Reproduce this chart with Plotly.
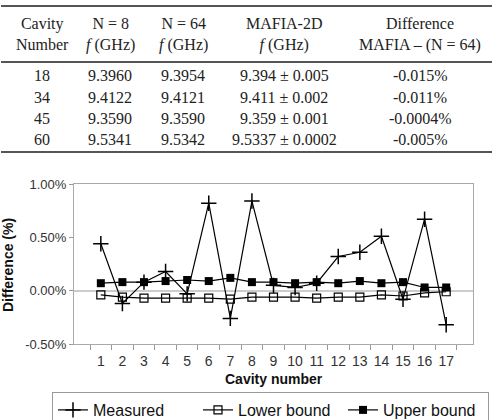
import plotly.graph_objects as go

W, H = 494, 420

# ---- data ----
cavities = [str(i) for i in range(1, 18)]
measured = [0.44, -0.12, 0.08, 0.18, -0.03, 0.82, -0.26, 0.84, 0.05, 0.03, 0.07, 0.32, 0.36, 0.51, -0.08, 0.67, -0.32]
lower_bound = [-0.04, -0.06, -0.07, -0.07, -0.07, -0.07, -0.08, -0.06, -0.06, -0.06, -0.07, -0.06, -0.06, -0.04, -0.05, -0.02, -0.01]
upper_bound = [0.07, 0.08, 0.08, 0.09, 0.10, 0.09, 0.12, 0.08, 0.08, 0.07, 0.08, 0.07, 0.09, 0.07, 0.08, 0.03, 0.03]

y_tickvals = [-0.5, 0.0, 0.5, 1.0]
y_ticktext = ["-0.50%", "0.00%", "0.50%", "1.00%"]

table_header = [
    "Cavity<br>Number",
    "N = 8<br><i>f</i> (GHz)",
    "N = 64<br><i>f</i> (GHz)",
    "MAFIA-2D<br><i>f</i> (GHz)",
    "Difference<br>MAFIA \u2013 (N = 64)",
]
table_rows = [
    ["18", "9.3960", "9.3954", "9.394 \u00b1 0.005", "-0.015%"],
    ["34", "9.4122", "9.4121", "9.411 \u00b1 0.002", "-0.011%"],
    ["45", "9.3590", "9.3590", "9.359 \u00b1 0.001", "-0.0004%"],
    ["60", "9.5341", "9.5342", "9.5337 \u00b1 0.0002", "-0.005%"],
]

# ---- layout helpers (pixel -> paper) ----
def px(x):
    return x / W

def py(y):
    return 1 - y / H

PL, PR, PT, PB = 74, 473, 184, 344

fig = go.Figure()
line_style = dict(color="black", width=1.2)
fig.add_trace(go.Scatter(x=cavities, y=measured, name="Measured", mode="lines+markers",
                         line=line_style,
                         marker=dict(symbol="cross-thin", size=11, line=dict(color="black", width=1.5))))
fig.add_trace(go.Scatter(x=cavities, y=lower_bound, name="Lower bound", mode="lines+markers",
                         line=line_style,
                         marker=dict(symbol="square-open", size=8, color="black", line=dict(color="black", width=1.2))))
fig.add_trace(go.Scatter(x=cavities, y=upper_bound, name="Upper bound", mode="lines+markers",
                         line=line_style,
                         marker=dict(symbol="square", size=8, color="black")))

axis_font = dict(family="Liberation Sans, Arial", size=13, color="#333")
fig.update_layout(
    width=W, height=H,
    margin=dict(l=0, r=0, t=0, b=0, autoexpand=False),
    paper_bgcolor="white", plot_bgcolor="white",
    showlegend=True,
    legend=dict(orientation="h", x=px(52), y=py(392), xanchor="left", yanchor="top",
                bordercolor="#999", borderwidth=1, entrywidth=100,
                font=dict(family="Liberation Sans, Arial", size=16, color="#111")),
    xaxis=dict(domain=[px(PL), px(PR)], type="category", tickson="boundaries",
               ticks="outside", ticklen=5, tickcolor="#999", tickangle=0,
               ticklabelstandoff=4,
               showline=True, linecolor="#aaa", linewidth=1, mirror=True,
               showgrid=False, tickfont=dict(family="Liberation Sans, Arial", size=14, color="#333"),
               anchor="y", automargin=False),
    yaxis=dict(domain=[py(PB), py(PT)], range=[-0.5, 1.0],
               tickvals=y_tickvals, ticktext=y_ticktext,
               ticks="outside", ticklen=4, tickcolor="#999",
               showline=True, linecolor="#aaa", linewidth=1, mirror=True,
               showgrid=False, zeroline=True, zerolinecolor="#ccc", zerolinewidth=1.5,
               tickfont=axis_font, automargin=False),
)

annotations = []
# axis titles
annotations.append(dict(x=px((PL + PR) / 2), y=py(379), xref="paper", yref="paper",
                        xanchor="center", yanchor="middle",
                        text="<b>Cavity number</b>", showarrow=False,
                        font=dict(family="Liberation Sans, Arial", size=14, color="#111")))
annotations.append(dict(x=px(8), y=py(265), xref="paper", yref="paper",
                        xanchor="center", yanchor="middle",
                        text="<b>Difference (%)</b>", showarrow=False, textangle=-90,
                        font=dict(family="Liberation Sans, Arial", size=14, color="#111")))

# table
col_x = [42, 110, 183, 284, 420]
serif = dict(family="Liberation Serif, Times New Roman", size=16, color="#222")
for cx, htxt in zip(col_x, table_header):
    annotations.append(dict(x=px(cx), y=py(34), xref="paper", yref="paper", text=htxt,
                            xanchor="center", yanchor="middle",
                            showarrow=False, font=serif, align="center"))
row_y = [75, 97, 118, 140]
for ry, row in zip(row_y, table_rows):
    for cx, val in zip(col_x, row):
        annotations.append(dict(x=px(cx), y=py(ry), xref="paper", yref="paper", text=val,
                                xanchor="center", yanchor="middle",
                                showarrow=False, font=serif))
fig.update_layout(annotations=annotations)

shapes = []
for ry in [6, 62, 152]:
    shapes.append(dict(type="line", xref="paper", yref="paper", x0=px(1), x1=px(492),
                       y0=py(ry), y1=py(ry), line=dict(color="#555", width=2)))
fig.update_layout(shapes=shapes)

fig.write_html("out.html")
